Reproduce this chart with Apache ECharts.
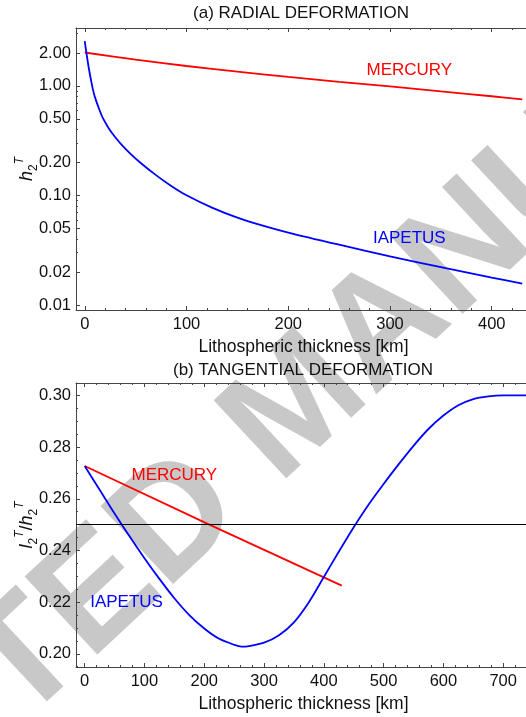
<!DOCTYPE html>
<html>
<head>
<meta charset="utf-8">
<script src="https://cdn.jsdelivr.net/npm/echarts@6/dist/echarts.min.js"></script>
<style>
  html, body { margin: 0; padding: 0; background: #ffffff; }
  #chart { width: 526px; height: 717px; }
</style>
</head>
<body>
<div id="chart"></div>
<script>
// (a) radial Love number h2 versus lithospheric thickness
const iapetusRadialKm = [0, 2, 4, 6, 8, 10, 14, 18, 24, 30, 37, 45, 55, 70, 85, 100, 125, 150, 175, 200, 250, 300, 350, 400, 430];
const iapetusRadialH2 = [2.56, 1.9, 1.45, 1.15, 0.93, 0.79, 0.62, 0.505, 0.405, 0.34, 0.285, 0.24, 0.198, 0.1534, 0.1221, 0.1003, 0.0775, 0.0628, 0.053, 0.0458, 0.0355, 0.0278, 0.0222, 0.0178, 0.0157];
const mercuryRadialKm = [0, 50, 100, 150, 200, 250, 300, 350, 400, 430];
const mercuryRadialH2 = [2.02, 1.74, 1.52, 1.35, 1.21, 1.09, 0.99, 0.89, 0.805, 0.755];

// (b) tangential / radial ratio l2/h2 versus lithospheric thickness
const mercuryRatioKm = [0, 204, 430];
const mercuryRatio = [0.2727, 0.2505, 0.2264];
const iapetusRatioKm = [0, 25, 50, 75, 100, 125, 150, 175, 200, 225, 250, 262, 275, 300, 325, 350, 375, 400,
                        425, 450, 475, 500, 525, 550, 575, 600, 625, 650, 675, 700, 750];
const iapetusRatio = [0.2727, 0.2635, 0.2543, 0.2455, 0.2370, 0.2290, 0.2215, 0.2150, 0.2098, 0.2058, 0.2035,
                      0.2028, 0.2030, 0.2043, 0.2072, 0.2122, 0.2200, 0.2297, 0.2395, 0.2490, 0.2578, 0.2657,
                      0.2733, 0.2805, 0.2870, 0.2922, 0.2962, 0.2986, 0.2996, 0.3000, 0.3000];
const ratioReference = 0.25;

// tick values
const xMajorTop = [0, 100, 200, 300, 400];
const xMinorTop = [20, 40, 60, 80, 120, 140, 160, 180, 220, 240, 260, 280, 320, 340, 360, 380, 420];
const xMajorBottom = [0, 100, 200, 300, 400, 500, 600, 700];
const xMinorBottom = [20, 40, 60, 80, 120, 140, 160, 180, 220, 240, 260, 280, 320, 340, 360, 380,
                      420, 440, 460, 480, 520, 540, 560, 580, 620, 640, 660, 680, 720, 740];
const yMajorTop = [0.01, 0.02, 0.05, 0.1, 0.2, 0.5, 1, 2];
const yMinorTop = [0.03, 0.04, 0.06, 0.07, 0.08, 0.09, 0.3, 0.4, 0.6, 0.7, 0.8, 0.9, 3];
const yMajorBottom = [0.20, 0.22, 0.24, 0.26, 0.28, 0.30];
const yMinorBottom = [0.195, 0.205, 0.21, 0.215, 0.225, 0.23, 0.235, 0.245, 0.25, 0.255,
                      0.265, 0.27, 0.275, 0.285, 0.29, 0.295];

const FONT = '"Liberation Sans", Arial, Helvetica, sans-serif';
const FRAME = '#444444';
const TEXT = '#111111';
const RED = '#ff0000';
const BLUE = '#0000ff';

const zip = (xs, ys) => xs.map((x, i) => [x, ys[i]]);

function frameX(gridIndex, position, min, max, ticks, len, showLine, labels, name) {
  return {
    type: 'value', gridIndex, position, min, max,
    axisLine: { show: showLine, onZero: false, lineStyle: { color: FRAME, width: 1 } },
    axisTick: { show: true, inside: true, length: len, customValues: ticks, lineStyle: { color: FRAME, width: 1 } },
    axisLabel: labels
      ? { show: true, customValues: ticks, margin: 6, color: TEXT, fontSize: 16.5, fontFamily: FONT }
      : { show: false },
    splitLine: { show: false },
    name: name || '',
    nameLocation: 'middle',
    nameGap: 28,
    nameMoveOverlap: false,
    nameTextStyle: { color: TEXT, fontSize: 17.5, fontFamily: FONT }
  };
}

function frameY(gridIndex, type, min, max, ticks, len, showLine, labels, name, rich) {
  return {
    type, gridIndex, position: 'left', min, max, logBase: 10,
    axisLine: { show: showLine, onZero: false, lineStyle: { color: FRAME, width: 1 } },
    axisTick: { show: true, inside: true, length: len, customValues: ticks, lineStyle: { color: FRAME, width: 1 } },
    axisLabel: labels
      ? { show: true, customValues: ticks, margin: 5, color: TEXT, fontSize: 16.5, fontFamily: FONT,
          formatter: v => Number(v).toFixed(2) }
      : { show: false },
    splitLine: { show: false },
    name: name || '',
    nameLocation: 'middle',
    nameGap: 36,
    nameMoveOverlap: false,
    nameTextStyle: { rich }
  };
}

const richName = {
  i: { fontStyle: 'italic', fontSize: 18, fontFamily: FONT, color: TEXT, lineHeight: 26 },
  n: { fontSize: 18, fontFamily: FONT, color: TEXT, lineHeight: 26 },
  s: { fontSize: 12, fontFamily: FONT, color: TEXT, lineHeight: 12, verticalAlign: 'bottom' },
  t: { fontSize: 12, fontStyle: 'italic', fontFamily: FONT, color: TEXT, lineHeight: 12, verticalAlign: 'top' }
};

function curveLabel(text, coord, color) {
  return {
    symbol: 'circle', symbolSize: 1, silent: true,
    itemStyle: { color: 'rgba(0,0,0,0)' },
    label: { show: true, position: 'inside', formatter: text, color, fontSize: 17, fontFamily: FONT },
    data: [{ coord }]
  };
}

const chart = echarts.init(document.getElementById('chart'), null, { renderer: 'canvas' });

const option = {
  animation: false,
  backgroundColor: '#ffffff',
  grid: [
    { left: 76, right: -5, top: 28, height: 282, containLabel: false, outerBoundsMode: 'none' },
    { left: 76, right: -5, top: 383, height: 284, containLabel: false, outerBoundsMode: 'none' }
  ],
  xAxis: [
    frameX(0, 'bottom', -8.6, 438.6, xMajorTop, 4, true, true, 'Lithospheric thickness [km]'),
    frameX(0, 'bottom', -8.6, 438.6, xMinorTop, 2, false, false),
    frameX(0, 'top', -8.6, 438.6, xMajorTop, 4, true, false),
    frameX(0, 'top', -8.6, 438.6, xMinorTop, 2, false, false),
    frameX(1, 'bottom', -14.5, 746.5, xMajorBottom, 4, true, true, 'Lithospheric thickness [km]'),
    frameX(1, 'bottom', -14.5, 746.5, xMinorBottom, 2, false, false),
    frameX(1, 'top', -14.5, 746.5, xMajorBottom, 4, true, false),
    frameX(1, 'top', -14.5, 746.5, xMinorBottom, 2, false, false)
  ],
  yAxis: [
    frameY(0, 'log', 0.009, 3.38, yMajorTop, 4, true, true, '{i|h}{s|2}{t|T}', richName),
    frameY(0, 'log', 0.009, 3.38, yMinorTop, 2, false, false),
    frameY(1, 'value', 0.1949, 0.3048, yMajorBottom, 4, true, true, '{i|l}{s|2}{t|T}{n|/}{i|h}{s|2}{t|T}', richName),
    frameY(1, 'value', 0.1949, 0.3048, yMinorBottom, 2, false, false)
  ],
  graphic: [
    {
      type: 'text', z: -10, silent: true,
      x: 300, y: 407, rotation: 43 * Math.PI / 180,
      style: { text: 'ACCEPTED MANUSCRIPT', font: 'bold 155px ' + FONT, fill: '#c8c8c8',
               align: 'center', verticalAlign: 'middle' }
    },
    {
      type: 'text', silent: true, x: 301, y: 13.5,
      style: { text: '(a) RADIAL DEFORMATION', font: '17px ' + FONT, fill: TEXT,
               align: 'center', verticalAlign: 'middle' }
    },
    {
      type: 'text', silent: true, x: 303, y: 370,
      style: { text: '(b) TANGENTIAL DEFORMATION', font: '17px ' + FONT, fill: TEXT,
               align: 'center', verticalAlign: 'middle' }
    }
  ],
  series: [
    {
      name: 'Mercury h2', type: 'line', xAxisIndex: 0, yAxisIndex: 0,
      data: zip(mercuryRadialKm, mercuryRadialH2), showSymbol: false, smooth: 0.3,
      lineStyle: { color: RED, width: 1.8 },
      markPoint: curveLabel('MERCURY', [319, 1.40], RED)
    },
    {
      name: 'Iapetus h2', type: 'line', xAxisIndex: 0, yAxisIndex: 0,
      data: zip(iapetusRadialKm, iapetusRadialH2), showSymbol: false, smooth: 0.3,
      lineStyle: { color: BLUE, width: 1.8 },
      markPoint: curveLabel('IAPETUS', [319, 0.0405], BLUE)
    },
    {
      name: 'Mercury ratio', type: 'line', xAxisIndex: 4, yAxisIndex: 2,
      data: zip(mercuryRatioKm, mercuryRatio), showSymbol: false,
      lineStyle: { color: RED, width: 1.8 },
      markPoint: curveLabel('MERCURY', [150, 0.269], RED)
    },
    {
      name: 'Iapetus ratio', type: 'line', xAxisIndex: 4, yAxisIndex: 2,
      data: zip(iapetusRatioKm, iapetusRatio), showSymbol: false, smooth: 0.3,
      lineStyle: { color: BLUE, width: 1.8 },
      markPoint: curveLabel('IAPETUS', [70, 0.2201], BLUE),
      markLine: {
        silent: true, symbol: 'none', label: { show: false },
        lineStyle: { color: '#000000', width: 1, type: 'solid' },
        data: [{ yAxis: ratioReference }]
      }
    }
  ]
};

chart.setOption(option);
</script>
</body>
</html>
